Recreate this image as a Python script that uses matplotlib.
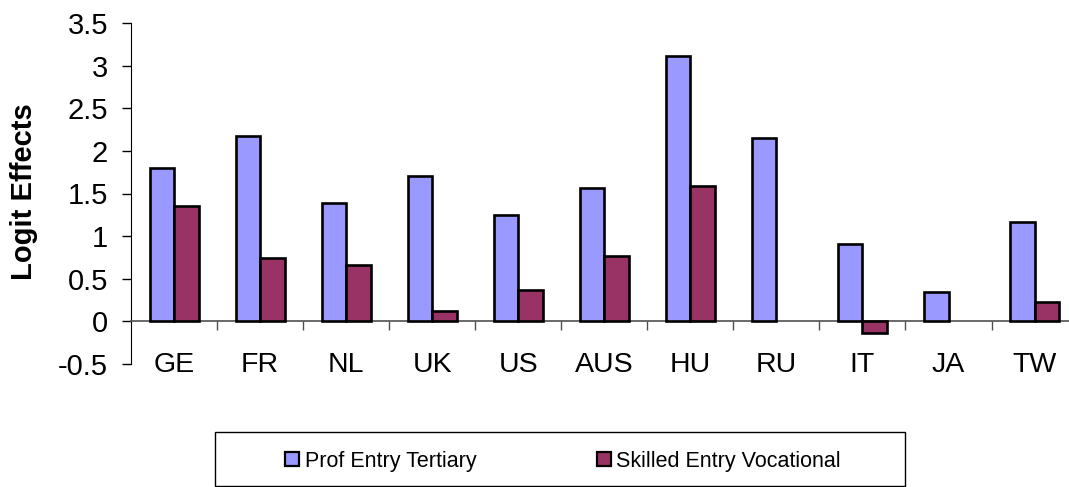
import numpy as np
import matplotlib
matplotlib.use('Agg')
import matplotlib.pyplot as plt
from matplotlib.patches import Rectangle, Patch
from matplotlib.ticker import FuncFormatter

plt.rcParams['font.family'] = ['Liberation Sans', 'DejaVu Sans']

countries = ['GE', 'FR', 'NL', 'UK', 'US', 'AUS', 'HU', 'RU', 'IT', 'JA', 'TW']
prof_tertiary = [1.80, 2.17, 1.39, 1.70, 1.25, 1.56, 3.11, 2.15, 0.91, 0.34, 1.17]
skilled_vocational = [1.35, 0.74, 0.66, 0.12, 0.37, 0.77, 1.59, np.nan, -0.14, np.nan, 0.23]

blue = '#9999FF'
plum = '#993366'


def plot_logit_effects():
    fig = plt.figure(figsize=(10.69, 4.87), dpi=100)
    ax = fig.add_axes([131 / 1069, 1 - 364 / 487, 1 - 131 / 1069, 341 / 487])

    x = np.arange(len(countries))
    width = 0.285
    ax.bar(x - width / 2, prof_tertiary, width, color=blue,
           edgecolor='black', linewidth=1.9, zorder=3)
    ax.bar(x + width / 2, skilled_vocational, width, color=plum,
           edgecolor='black', linewidth=1.9, zorder=3)

    ax.set_xlim(-0.5, 10.4)
    ax.set_ylim(-0.5, 3.5)
    ax.set_yticks(np.arange(-0.5, 3.51, 0.5))
    ax.yaxis.set_major_formatter(FuncFormatter(lambda v, p: f'{v:g}'))
    ax.tick_params(axis='y', direction='out', length=6.5, width=1,
                   labelsize=21, pad=10)

    # zero line carries the category boundaries, names sit below it
    for side in ['top', 'right']:
        ax.spines[side].set_visible(False)
    ax.spines['bottom'].set_position(('data', 0))
    ax.spines['bottom'].set_color('#505050')
    ax.spines['bottom'].set_linewidth(1.2)
    ax.set_xticks(np.arange(0.5, len(countries) - 0.5, 1))
    ax.set_xticklabels([])
    ax.tick_params(axis='x', which='major', direction='out', length=6.5,
                   width=1, color='#505050')
    ax.set_xticks(x, minor=True)
    ax.set_xticklabels(countries, minor=True)
    ax.tick_params(axis='x', which='minor', length=0, labelsize=20.5, pad=22)

    fig.text(24 / 1069, 1 - 192 / 487, 'Logit Effects', rotation=90,
             ha='center', va='center', fontsize=21, fontweight='bold')

    # legend box
    fig.patches.append(Rectangle((215 / 1069, 1 - 486 / 487), 690 / 1069,
                                 54 / 487, transform=fig.transFigure,
                                 facecolor='white', edgecolor='black',
                                 linewidth=1))
    handles = [Patch(facecolor=blue, edgecolor='black', linewidth=1.6),
               Patch(facecolor=plum, edgecolor='black', linewidth=1.6)]
    fig.legend(handles, ['Prof Entry Tertiary', 'Skilled Entry Vocational'],
               loc='center', bbox_to_anchor=(563 / 1069, 1 - 461 / 487),
               ncol=2, frameon=False, fontsize=15.5, handlelength=0.65,
               handleheight=0.65, handletextpad=0.25, columnspacing=5.6)

    fig.savefig('out.png', dpi=100)


if __name__ == '__main__':
    plot_logit_effects()
